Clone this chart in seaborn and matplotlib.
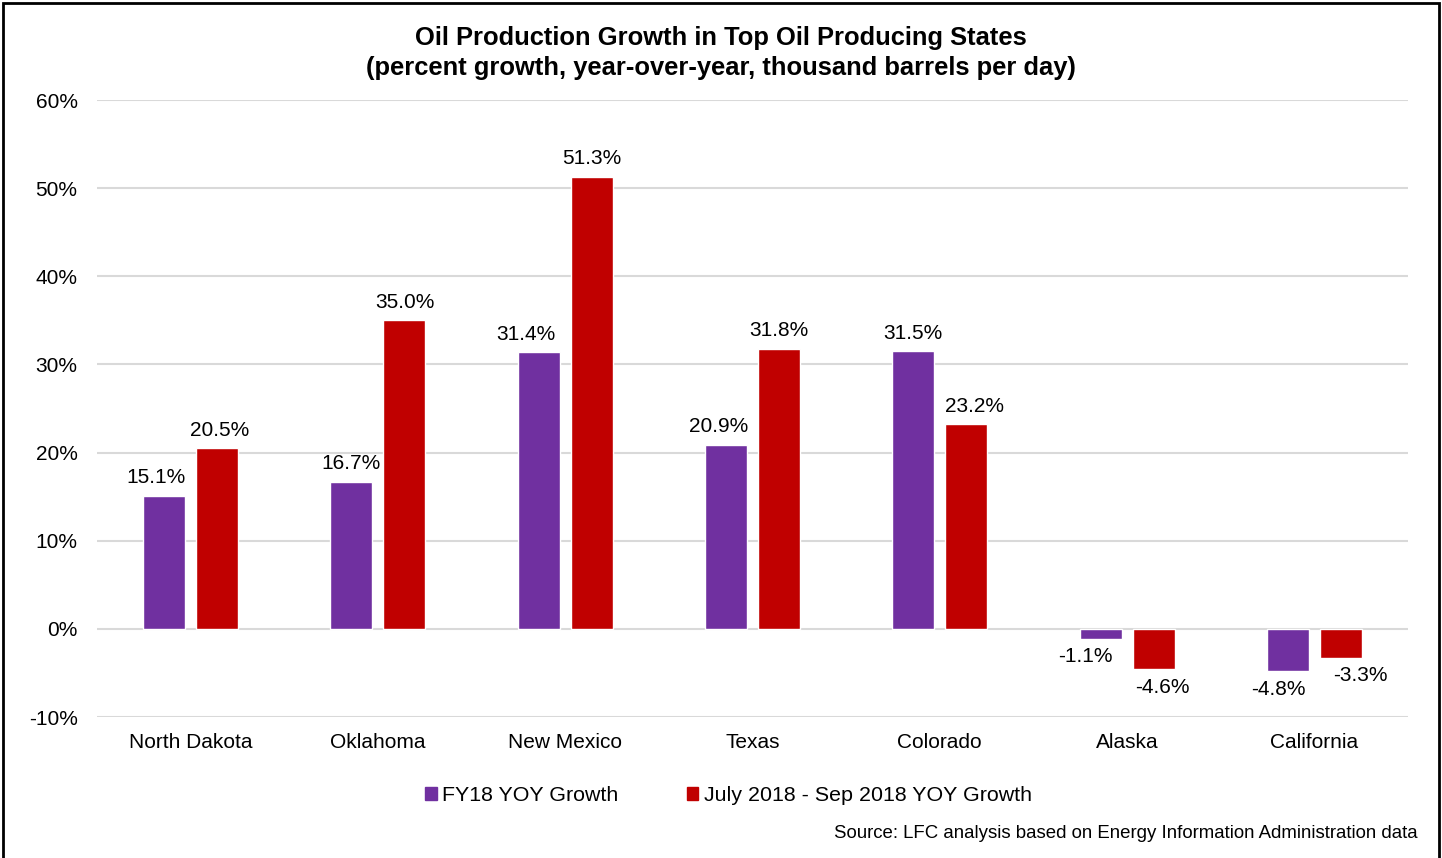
import matplotlib
matplotlib.use("Agg")
import numpy as np
import pandas as pd
import matplotlib.pyplot as plt
import seaborn as sns
from matplotlib.patches import Rectangle, Patch
from matplotlib.ticker import FuncFormatter, MultipleLocator

states = ["North Dakota", "Oklahoma", "New Mexico", "Texas", "Colorado", "Alaska", "California"]
fy18_growth = [15.1, 16.7, 31.4, 20.9, 31.5, -1.1, -4.8]
q1_growth = [20.5, 35.0, 51.3, 31.8, 23.2, -4.6, -3.3]
series_names = ["FY18 YOY Growth", "July 2018 - Sep 2018 YOY Growth"]
colors = ["#7030A0", "#C00000"]

# small horizontal nudges (points) for data labels, like Excel places them
label_dx = [
    [-6, 0, -9, -5, 0, -11, -7],
    [2, 0, 0, 0, 6, 6, 14],
]

df = pd.DataFrame({
    "state": states * 2,
    "growth": fy18_growth + q1_growth,
    "series": [series_names[0]] * len(states) + [series_names[1]] * len(states),
})

sns.set_style("white")
plt.rcParams["font.family"] = ["Liberation Sans", "DejaVu Sans"]
plt.rcParams["text.color"] = "black"
plt.rcParams["xtick.color"] = "black"
plt.rcParams["ytick.color"] = "black"

fig = plt.figure(figsize=(14.42, 8.58), dpi=100)
ax = fig.add_axes([0.0673, 0.1643, 0.9091, 0.7191])

sns.barplot(data=df, x="state", y="growth", hue="series", palette=colors,
            width=0.566, gap=0.208, saturation=1, legend=False, ax=ax)

ax.set_ylim(-10, 60)
ax.set_xlim(-0.5, len(states) - 0.5)
ax.yaxis.set_major_locator(MultipleLocator(10))
ax.yaxis.set_major_formatter(FuncFormatter(lambda v, p: f"{v:.0f}%"))
ax.grid(axis="y", color="#D9D9D9", linewidth=1.5)
ax.set_axisbelow(True)
for s in ax.spines.values():
    s.set_visible(False)
ax.tick_params(axis="y", length=0, pad=14, labelsize=15)
ax.tick_params(axis="x", length=0, pad=11.5, labelsize=15)
ax.set_xlabel("")
ax.set_ylabel("")

for cont, dxs in zip(ax.containers, label_dx):
    anns = ax.bar_label(cont, labels=[f"{v:.1f}%" for v in cont.datavalues],
                        padding=6, fontsize=15, color="black")
    for ann, dx in zip(anns, dxs):
        x0, y0 = ann.xyann
        ann.xyann = (x0 + dx, y0)

# title
fig.text(0.5, 0.9557, "Oil Production Growth in Top Oil Producing States",
         ha="center", va="center", fontsize=18.4, fontweight="bold")
fig.text(0.5, 0.9207, "(percent growth, year-over-year, thousand barrels per day)",
         ha="center", va="center", fontsize=18.4, fontweight="bold")

handles = [Patch(facecolor=c, edgecolor=c) for c in colors]
fig.legend(handles, series_names, loc="center", bbox_to_anchor=(0.505, 0.073),
           ncol=2, frameon=False, fontsize=15.4, handlelength=0.55, handleheight=0.55,
           handletextpad=0.25, columnspacing=3.2)

fig.text(0.983, 0.029, "Source: LFC analysis based on Energy Information Administration data",
         ha="right", va="center", fontsize=13.4)

fig.patches.append(Rectangle((0.002, -0.05), 0.996, 1.047, transform=fig.transFigure,
                             fill=False, edgecolor="black", linewidth=2, figure=fig))

fig.savefig("out.png", dpi=100)
